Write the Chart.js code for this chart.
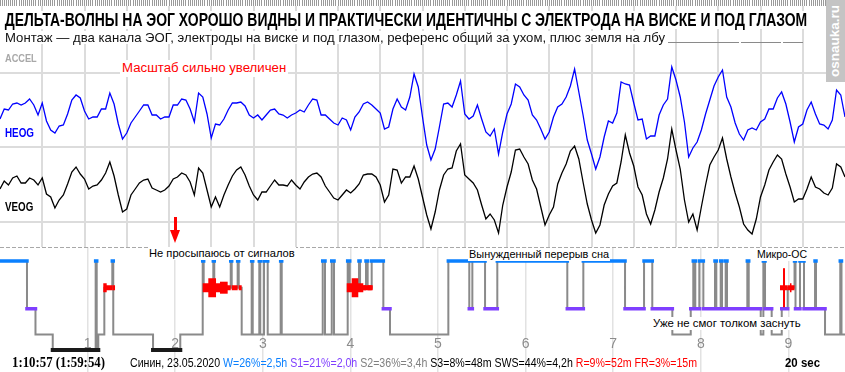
<!DOCTYPE html>
<html>
<head>
<meta charset="utf-8">
<script src="https://cdn.jsdelivr.net/npm/chart.js@4.4.1/dist/chart.umd.min.js"></script>
<style>
html, body { margin: 0; padding: 0; background: #fff; }
#wrap { position: relative; width: 845px; height: 372px; overflow: hidden; background: #fff;
        font-family: "Liberation Sans", Arial, sans-serif; }
canvas { position: absolute; left: 0; }
.lbl { position: absolute; white-space: nowrap; line-height: 1; transform-origin: 0 0; }
.bg { background: #fff; }
.line { position: absolute; height: 1px; background: #8a8a8a; }
</style>
</head>
<body>
<div id="wrap">
  <canvas id="eog" width="845" height="247" style="top:0;width:845px;height:247px"></canvas>
  <canvas id="hyp" width="845" height="125" style="top:247px;width:845px;height:125px"></canvas>

  <div class="lbl bg" data-x="4" data-cy="19.7" data-w="804" style="font-size:18.5px;font-weight:bold;color:#000;padding:0 1px">ДЕЛЬТА-ВОЛНЫ НА ЭОГ ХОРОШО ВИДНЫ И ПРАКТИЧЕСКИ ИДЕНТИЧНЫ С ЭЛЕКТРОДА НА ВИСКЕ И ПОД ГЛАЗОМ</div>
  <div class="lbl bg" data-x="4" data-cy="37" data-w="662" style="font-size:13px;color:#111;padding:0 1px">Монтаж — два канала ЭОГ, электроды на виске и под глазом, референс общий за ухом, плюс земля на лбу</div>
  <div class="line" style="left:668px;top:42px;width:71px"></div>
  <div class="line" style="left:741px;top:42px;width:40px"></div>
  <div class="line" style="left:783px;top:42px;width:20px"></div>

  <div class="lbl" data-x="5" data-cy="58.8" data-w="31.7" style="font-size:11px;font-weight:bold;color:#a8a8a8">ACCEL</div>
  <div class="lbl bg" data-x="119.7" data-cy="68.3" data-w="168.3" style="font-size:12.5px;color:#ff0000;padding:2px 2px">Масштаб сильно увеличен</div>
  <div class="lbl" data-x="5" data-cy="132.8" data-w="29" style="font-size:12.5px;font-weight:bold;color:#0000ff">HEOG</div>
  <div class="lbl" data-x="5" data-cy="206.7" data-w="28.3" style="font-size:12.5px;font-weight:bold;color:#000">VEOG</div>

  <div style="position:absolute;left:173.5px;top:217px;width:3.5px;height:14px;background:#ff0000"></div>
  <div style="position:absolute;left:170px;top:230px;width:0;height:0;border-left:5px solid transparent;border-right:5px solid transparent;border-top:13px solid #ff0000"></div>

  <div class="lbl bg" data-x="148.3" data-cy="253.8" data-w="147.7" style="font-size:11px;color:#000;padding:1px 1px">Не просыпаюсь от сигналов</div>
  <div class="lbl bg" data-x="468.3" data-cy="254" data-w="142" style="font-size:11px;color:#000;padding:1px 1px">Вынужденный перерыв сна</div>
  <div class="lbl bg" data-x="755.7" data-cy="254" data-w="52" style="font-size:11px;color:#000;padding:1px 1px">Микро-ОС</div>
  <div class="lbl bg" data-x="652.3" data-cy="323.3" data-w="149.7" style="font-size:11px;color:#000;padding:1px 1px">Уже не смог толком заснуть</div>

  <div class="lbl" data-x="12" data-cy="363.3" data-k="0.51" data-w="93" style="font-family:'Liberation Serif','Times New Roman',serif;font-size:14px;font-weight:bold;color:#000">1:10:57 (1:59:54)</div>
  <div class="lbl" data-x="130" data-cy="363.5" data-w="567" style="font-size:12.5px;color:#000">Синин, 23.05.2020 <span style="color:#0a80ff">W=26%=2,5h</span> <span style="color:#7f3fff">S1=21%=2,0h</span> <span style="color:#808080">S2=36%=3,4h</span> S3=8%=48m SWS=44%=4,2h <span style="color:#ff0000">R=9%=52m FR=3%=15m</span></div>
  <div class="lbl" data-x="785" data-cy="363" data-w="35" style="font-size:12.5px;font-weight:bold;color:#000">20 sec</div>

  <div style="position:absolute;left:826px;top:0;width:19px;height:82px;background:#c4c4c4"></div>
  <div id="mark" class="lbl" style="left:0;top:0;font-size:13.5px;font-weight:bold;color:#fff">osnauka.ru</div>
</div>

<script>
// EOG samples every 0.1 s over 20 s (amplitude, arbitrary uV)
const sampleStep = 0.1;
const heog = [-9,1,0,6,7,5,7,11,5,-5,
  7,-11,-20,-23,-16,-15,-4,10,15,12,
  -1,-9,-7,-7,1,1,17,6,-14,-29,
  -23,-13,-7,-1,5,5,-5,-5,-9,-7,
  -7,5,5,11,10,1,-12,17,13,-4,
  -28,-14,-15,-9,0,7,7,8,4,-5,
  -8,-5,-10,-5,0,1,-4,-5,-8,-5,
  -3,0,-2,5,11,10,-5,-5,-9,-13,
  -15,-8,-10,-20,-7,-2,6,8,5,1,
  -3,-19,-17,1,11,3,0,13,36,23,
  -7,-35,-50,-39,-17,6,7,3,15,29,
  -4,-9,-6,5,-9,-22,-26,-19,-44,-22,
  -4,6,26,23,15,10,-5,-10,-19,-29,
  -22,-7,3,6,13,24,41,18,-5,-30,
  -44,-59,-47,-27,-11,-13,-3,28,26,25,
  7,-10,-9,-29,-26,-26,-5,5,11,43,
  30,13,-12,-47,-38,-32,-20,-4,10,24,
  33,40,13,3,-13,-24,-30,-20,-18,-20,
  -12,-9,1,1,12,18,6,-12,-32,-17,
  -14,0,8,-4,-14,-15,-19,-10,20,15,
  -7];
const veog = [-4,4,0,7,9,2,2,7,5,0,
  7,-9,-12,-23,-15,-10,1,13,18,11,
  6,-4,-1,0,5,12,23,9,-10,-27,
  -24,-10,-4,2,5,6,-3,-5,-7,-5,
  -1,6,8,12,10,3,-10,17,12,-5,
  -22,-12,-22,-10,0,9,15,18,10,-1,
  -10,-15,-7,-7,-1,5,0,0,-1,5,
  0,-4,3,8,11,12,8,-1,-7,-13,
  -15,-10,-5,-8,-4,1,10,11,11,8,
  0,-17,-10,16,15,2,8,8,19,6,
  -12,-30,-44,-27,-5,10,16,17,34,41,
  10,6,2,-5,-20,-34,-29,-35,-48,-20,
  -2,13,35,36,28,21,5,-4,-22,-40,
  -30,-22,1,12,21,34,39,26,3,-19,
  -35,-48,-40,-20,-9,-1,2,23,50,32,
  19,-2,-10,-29,-39,-25,-7,7,26,56,
  35,16,-15,-37,-29,-45,-22,0,20,28,
  35,47,26,8,-8,-22,-39,-45,-49,-34,
  -12,0,15,23,30,26,11,-2,-17,-14,
  -14,-4,8,-2,-4,-8,-10,-3,21,18,
  8];
const channelRows = [1, 2, 3];

// hypnogram: stage changes (hours from start)
const hourTicks = [1, 2, 3, 4, 5, 6, 7, 8, 9];
const stageNames = ['W', 'R', 'S1', 'S2', 'S3'];
const stageDepth = [0, 1.2, 2.15, 3.3, 4];
const hypnoTime = [0,0.308,0.405,0.602,1.092,1.104,1.122,1.191,1.282,1.293,
  1.747,2.058,2.314,2.325,2.435,2.446,2.634,2.645,2.713,2.725,
  2.759,2.873,2.885,2.960,2.971,3.014,3.056,3.204,3.216,3.684,
  3.710,3.787,3.813,3.969,3.992,4.098,4.110,4.178,4.197,4.243,
  4.376,4.452,5.118,5.357,5.392,5.537,5.677,6.476,6.659,7.135,
  7.352,7.446,7.675,7.885,7.914,7.937,7.983,8.029,8.162,8.177,
  8.227,8.242,8.284,8.299,8.531,8.547,8.684,8.714,8.733,8.809,
  8.924,8.992,9.070,9.081,9.132,9.178,9.304,9.315,9.418,9.592,
  9.606,9.646];
const hypnoStage = ['W','S1','S2','S3','W','S3','S2','R','W','S2',
  'S3','S2','W','R','W','R','W','R','W','R',
  'S2','W','S2','W','S2','W','S2','W','S2','W',
  'S2','W','S2','W','R','W','R','W','R','W',
  'S1','S2','W','S1','W','S1','W','S1','W','S1',
  'W','S1','S2','S1','W','S1','W','S1','W','S1',
  'W','S1','W','S1','W','S1','S2','W','S1','S2',
  'S1','R','W','S1','W','S1','W','S1','S2','W',
  'S2','S2'];
// eye-movement bursts during REM
const remStart = [1.179,1.282,2.314,2.378,2.511,3.958,4.015,4.147,8.904,8.938,9.018];
const remEnd   = [1.218,1.313,2.557,2.466,2.599,4.147,4.090,4.255,8.992,8.961,9.035];
const remLevel = [2,1,2,4,3,2,4,1,1,5,2];

const stageColor = { W: '#0a80ff', R: '#ff0000', S1: '#7f3fff', S3: '#1a1a1a' };
const burstWidth = { 1: 5, 2: 9, 3: 12, 4: 19, 5: 39 };

// fit text labels to the measured widths
document.querySelectorAll('.lbl[data-w]').forEach(el => {
  const fs = parseFloat(el.style.fontSize);
  const k = el.dataset.k ? parseFloat(el.dataset.k) : 0.49;
  const pad = parseFloat(getComputedStyle(el).paddingTop) || 0;
  el.style.left = el.dataset.x + 'px';
  el.style.top = (parseFloat(el.dataset.cy) - k * fs - pad) + 'px';
  const w = el.getBoundingClientRect().width;
  el.style.transform = 'scaleX(' + (parseFloat(el.dataset.w) / w) + ')';
});
const mark = document.getElementById('mark');
const mw = mark.getBoundingClientRect().width;
mark.style.transform = 'translate(827.5px, 77px) rotate(-90deg) scaleX(' + (72 / mw) + ')';

const quiet = { legend: { display: false }, tooltip: { enabled: false } };
const eogTime = heog.map((v, i) => +(i * sampleStep).toFixed(2));

new Chart(document.getElementById('eog'), {
  type: 'line',
  data: {
    datasets: [
      { label: 'HEOG', data: eogTime.map((t, i) => ({ x: t, y: heog[i] })), xAxisID: 'x', yAxisID: 'yH',
        borderColor: '#0000ff', borderWidth: 1.3, pointRadius: 0, tension: 0 },
      { label: 'VEOG', data: eogTime.map((t, i) => ({ x: t, y: veog[i] })), xAxisID: 'x', yAxisID: 'yV',
        borderColor: '#000000', borderWidth: 1.3, pointRadius: 0, tension: 0 }
    ]
  },
  options: {
    responsive: false, animation: false, events: [],
    layout: { padding: 0 },
    plugins: quiet,
    scales: {
      ruler: { type: 'linear', position: 'top', min: 0, max: 20,
        ticks: { display: false, stepSize: 0.05, autoSkip: false },
        grid: { drawOnChartArea: false, tickLength: 6, color: '#9a9a9a', lineWidth: 1 },
        border: { display: false } },
      x: { type: 'linear', position: 'bottom', min: 0, max: 20,
        ticks: { display: false, stepSize: 1 },
        grid: { color: '#dcdcdc', lineWidth: 2, drawTicks: false },
        border: { display: false },
        afterBuildTicks: s => { s.ticks = s.ticks.filter(t => t.value > 0 && t.value < 20); } },
      rows: { type: 'linear', axis: 'y', position: 'left', min: 0.101, max: 3.336, reverse: true,
        ticks: { display: false },
        grid: { color: '#dcdcdc', lineWidth: 2, drawTicks: false },
        border: { display: false },
        afterBuildTicks: s => { s.ticks = channelRows.map(v => ({ value: v })); } },
      yH: { type: 'linear', display: false, min: -137, max: 104 },
      yV: { type: 'linear', display: false, min: -62, max: 179 }
    }
  }
});

// hypnogram datasets
const depthOf = s => stageDepth[stageNames.indexOf(s)];
const stepPoints = hypnoTime.map((t, i) => ({ x: t, y: depthOf(hypnoStage[i]) }));
function stageSegments(name) {
  const pts = [];
  for (let i = 0; i < hypnoTime.length - 1; i++) {
    if (hypnoStage[i] !== name) continue;
    pts.push({ x: hypnoTime[i], y: depthOf(name) }, { x: hypnoTime[i + 1], y: depthOf(name) }, { x: hypnoTime[i + 1], y: null });
  }
  return pts;
}
function burstSegments(level) {
  const pts = [];
  remStart.forEach((t, i) => {
    if (remLevel[i] !== level) return;
    pts.push({ x: t, y: depthOf('R') }, { x: remEnd[i], y: depthOf('R') }, { x: remEnd[i], y: null });
  });
  return pts;
}
const segStyle = { pointRadius: 0, tension: 0, spanGaps: false, xAxisID: 'h', yAxisID: 'd' };
const hypSets = [
  Object.assign({ label: 'steps', data: stepPoints, stepped: 'before', borderColor: '#8a8a8a', borderWidth: 2, order: 9 }, segStyle),
  Object.assign({ label: 'S3', data: stageSegments('S3'), borderColor: stageColor.S3, borderWidth: 4, borderCapStyle: 'square', order: 6 }, segStyle),
  Object.assign({ label: 'S1', data: stageSegments('S1'), borderColor: stageColor.S1, borderWidth: 3.5, borderCapStyle: 'square', order: 5 }, segStyle),
  Object.assign({ label: 'W', data: stageSegments('W'), borderColor: stageColor.W, borderWidth: 3.5, borderCapStyle: 'square', order: 4 }, segStyle),
  Object.assign({ label: 'R', data: stageSegments('R'), borderColor: stageColor.R, borderWidth: 5, borderCapStyle: 'butt', order: 3 }, segStyle)
];
[1, 2, 3, 4, 5].forEach(lv => {
  hypSets.push(Object.assign({ label: 'burst' + lv, data: burstSegments(lv), borderColor: stageColor.R,
    borderWidth: burstWidth[lv], borderCapStyle: 'butt', order: 2 }, segStyle));
});

const hourLabels = {
  id: 'hourLabels',
  beforeDatasetsDraw(chart) {
    const { ctx } = chart, s = chart.scales.h;
    ctx.save();
    ctx.font = '14px "Liberation Sans", Arial, sans-serif';
    ctx.fillStyle = '#8c8c8c';
    ctx.textAlign = 'center';
    ctx.textBaseline = 'alphabetic';
    hourTicks.forEach(h => ctx.fillText(String(h), s.getPixelForValue(h), 101.3));
    ctx.restore();
  }
};

new Chart(document.getElementById('hyp'), {
  type: 'line',
  data: { datasets: hypSets },
  options: {
    responsive: false, animation: false, events: [],
    layout: { padding: 0 },
    plugins: quiet,
    scales: {
      h: { type: 'linear', axis: 'x', position: 'top', min: 0, max: 9.646,
        ticks: { display: false, stepSize: 1 },
        grid: { color: '#e2e2e2', lineWidth: 1.5, drawTicks: false },
        border: { display: false },
        afterBuildTicks: s => { s.ticks = hourTicks.map(v => ({ value: v })); } },
      edge: { type: 'linear', axis: 'y', position: 'left', min: 0, max: 1,
        ticks: { display: false },
        grid: { color: '#a8a8a8', lineWidth: 1, drawTicks: false },
        border: { display: false, dash: [4, 2] },
        afterBuildTicks: s => { s.ticks = [{ value: 1 }]; } },
      d: { type: 'linear', axis: 'y', display: false, min: -0.629, max: 4.989, reverse: true }
    }
  },
  plugins: [hourLabels]
});
</script>
</body>
</html>
